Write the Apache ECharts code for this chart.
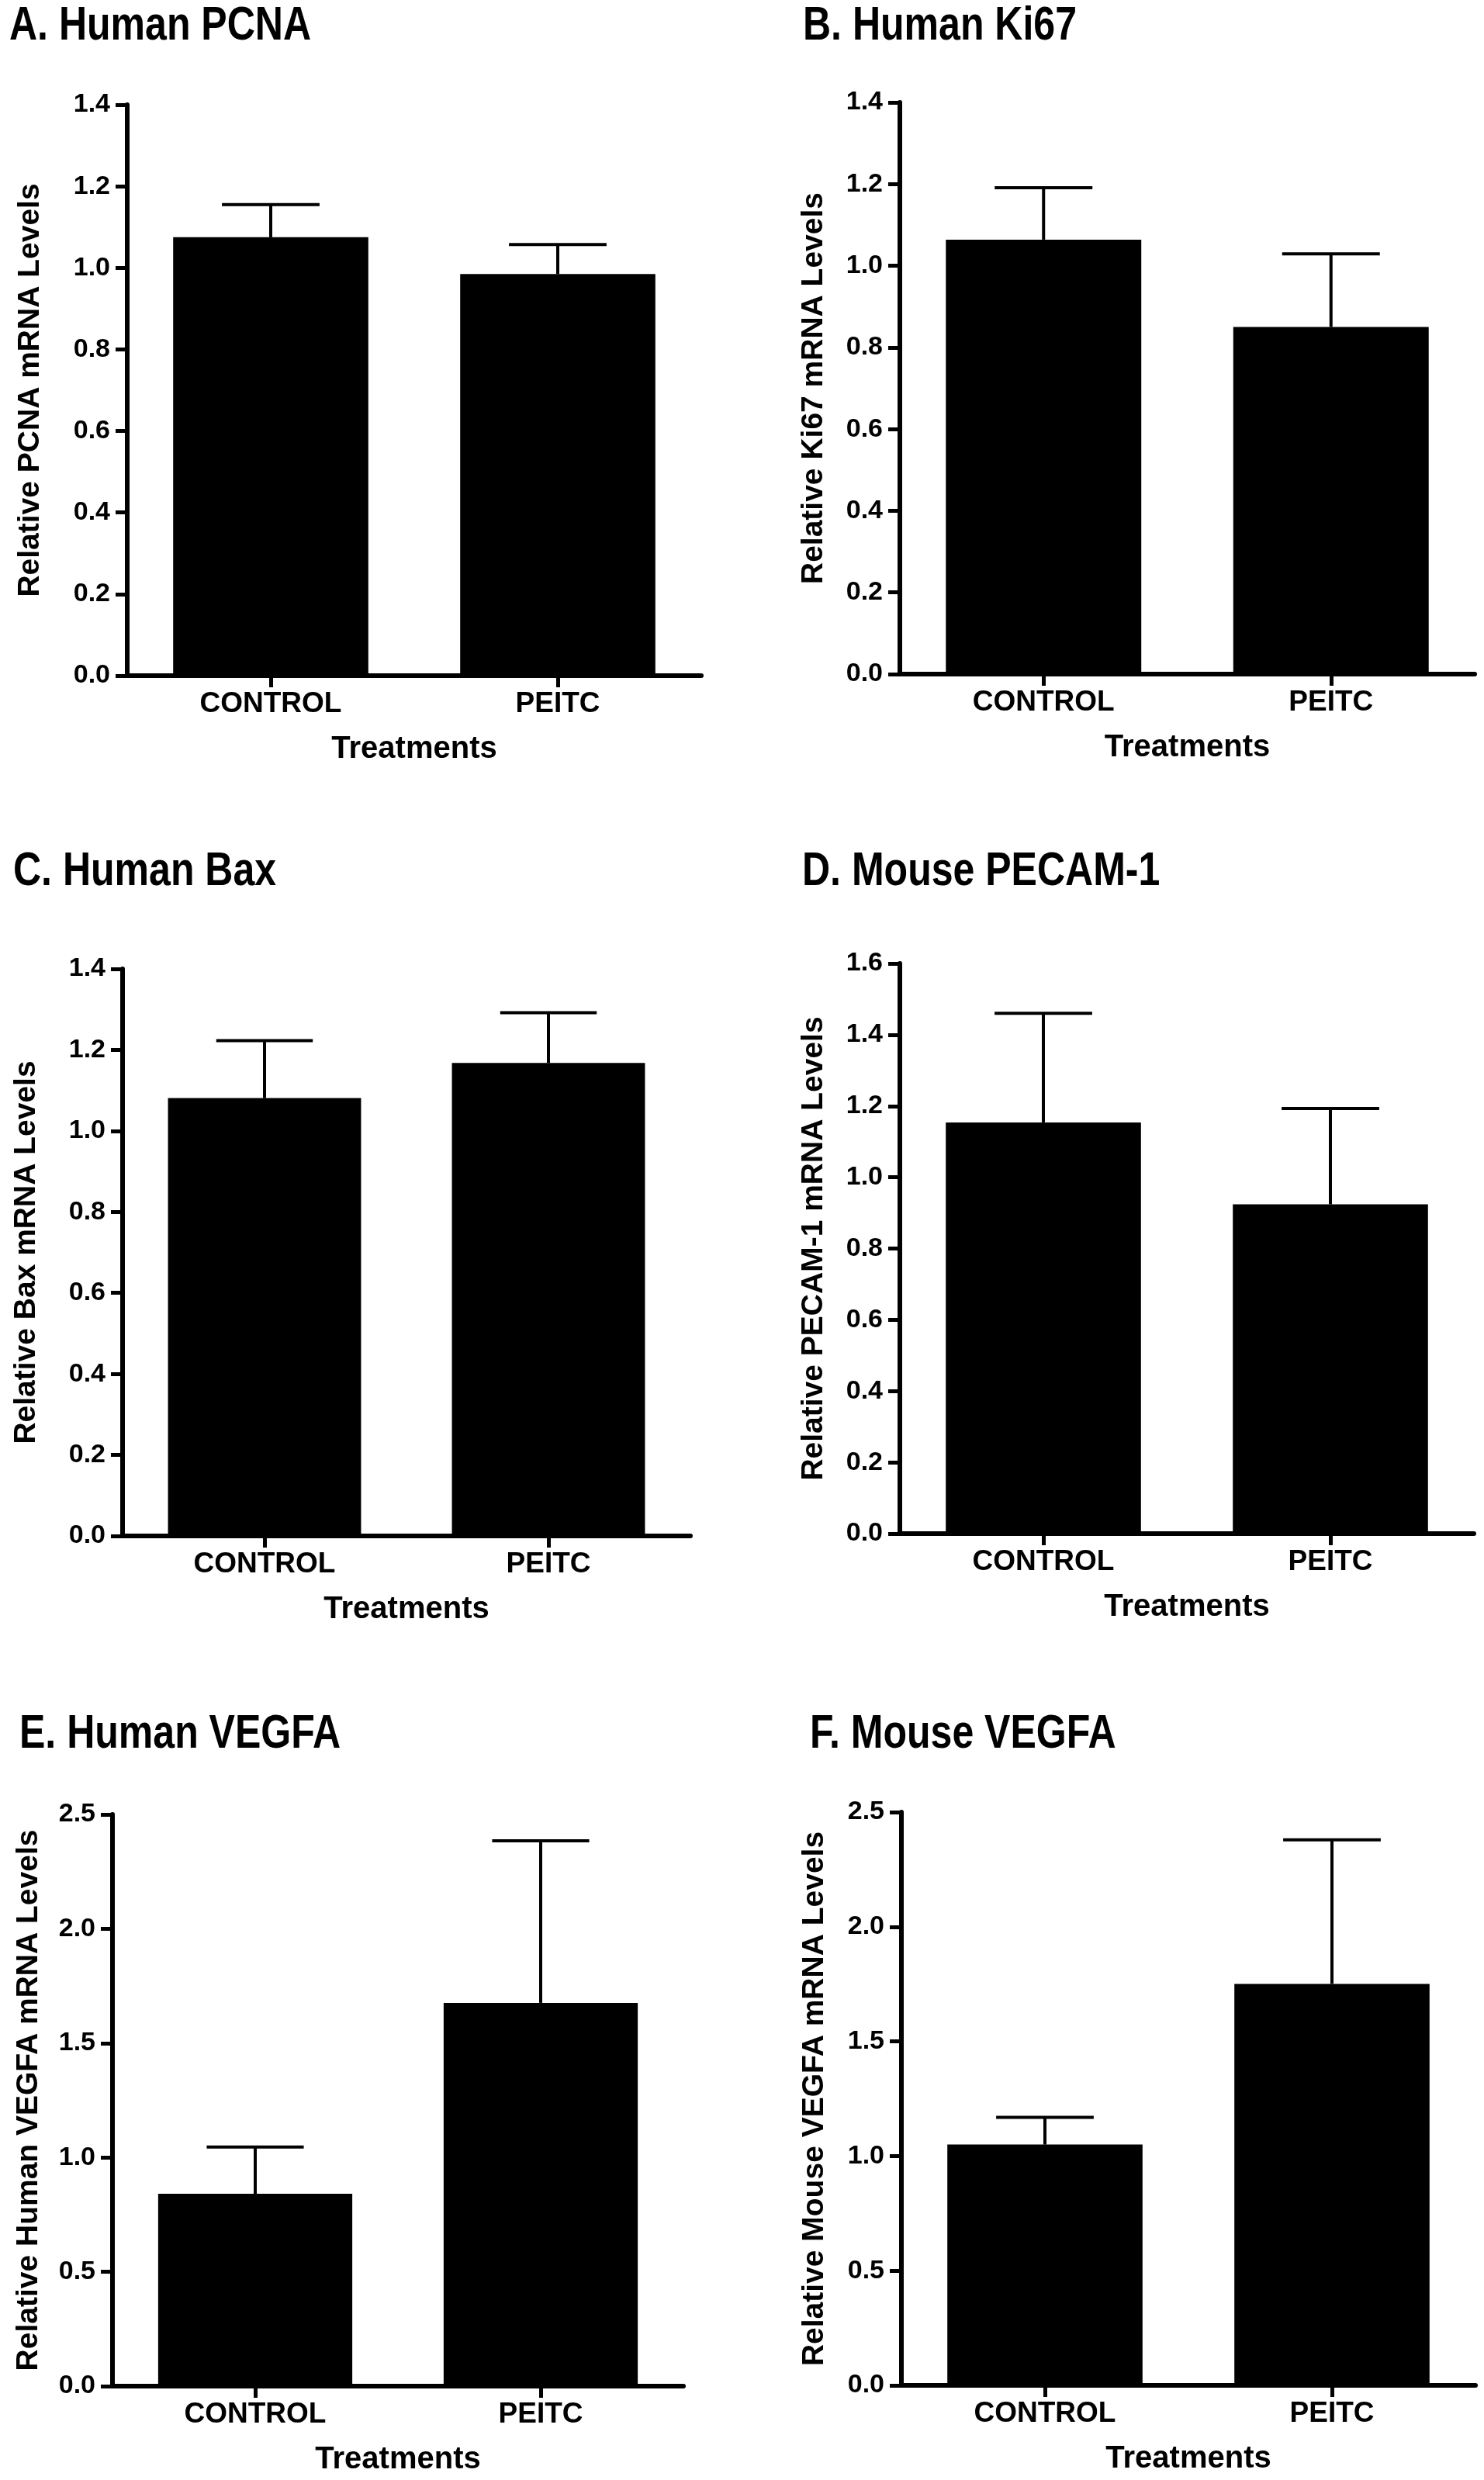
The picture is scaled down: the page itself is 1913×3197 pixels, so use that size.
<!DOCTYPE html>
<html>
<head>
    <meta charset="utf-8">
    <title>ECharts</title>
    <script src="https://cdn.jsdelivr.net/npm/echarts@6/dist/echarts.min.js"></script>
    <style>
        html, body { margin: 0; padding: 0; background: #fff; }
    </style>
</head>
<body>
<div id="main" style="width: 1913px;height:3197px;"></div>
<script type="text/javascript">
    // categories and values (mean, and the SEM shown by the upper error bar)
    var categories = ['CONTROL', 'PEITC'];

    var pcnaMean = [1.075, 0.985];
    var pcnaSem = [0.080, 0.072];
    var ki67Mean = [1.064, 0.850];
    var ki67Sem = [0.127, 0.179];
    var baxMean = [1.081, 1.168];
    var baxSem = [0.142, 0.124];
    var pecamMean = [1.154, 0.924];
    var pecamSem = [0.306, 0.269];
    var hVegfaMean = [0.841, 1.676];
    var hVegfaSem = [0.205, 0.709];
    var mVegfaMean = [1.050, 1.751];
    var mVegfaSem = [0.119, 0.628];

    var yMax = [1.4, 1.4, 1.4, 1.6, 2.5, 2.5];
    var yInterval = [0.2, 0.2, 0.2, 0.2, 0.5, 0.5];

    var titles = ['A. Human PCNA', 'B. Human Ki67', 'C. Human Bax',
        'D. Mouse PECAM-1', 'E. Human VEGFA', 'F. Mouse VEGFA'];
    var yNames = ['Relative PCNA mRNA Levels', 'Relative Ki67 mRNA Levels',
        'Relative Bax mRNA Levels', 'Relative PECAM-1 mRNA Levels',
        'Relative Human VEGFA mRNA Levels', 'Relative Mouse VEGFA mRNA Levels'];
    var xName = 'Treatments';

    var means = [pcnaMean, ki67Mean, baxMean, pecamMean, hVegfaMean, mVegfaMean];
    var sems = [pcnaSem, ki67Sem, baxSem, pecamSem, hVegfaSem, mVegfaSem];

    // panel placement in pixels (tl/tc = title left and title cap centre)
    var panels = [
        {left: 164, top: 135, width: 740, height: 736, tl: 12, tc: 34, gap: 105},
        {left: 1160, top: 132, width: 741, height: 737, tl: 1035, tc: 34, gap: 91},
        {left: 158, top: 1249, width: 732, height: 731, tl: 17, tc: 1124, gap: 104},
        {left: 1160, top: 1242, width: 740, height: 735, tl: 1034, tc: 1124, gap: 91},
        {left: 145, top: 2339, width: 736, height: 737, tl: 25, tc: 2236, gap: 88},
        {left: 1162, top: 2336, width: 740, height: 739, tl: 1044, tc: 2236, gap: 92}
    ];

    var font = '"Liberation Sans", Arial, Helvetica, sans-serif';
    var myChart = echarts.init(document.getElementById('main'));

    var option = {
        backgroundColor: '#fff',
        animation: false,
        textStyle: {fontFamily: font},
        graphic: [], grid: [], xAxis: [], yAxis: [], series: []
    };

    function renderErr(params, api) {
        var i = api.value(0);
        var base = api.coord([i, api.value(1)]);
        var top = api.coord([i, api.value(2)]);
        var half = api.size([1, 0])[0] * 0.17;
        var style = {stroke: '#000', lineWidth: 4};
        return {
            type: 'group',
            children: [
                {type: 'line', shape: {x1: base[0], y1: base[1], x2: top[0], y2: top[1]}, style: style},
                {type: 'line', shape: {x1: top[0] - half, y1: top[1], x2: top[0] + half, y2: top[1]}, style: style}
            ]
        };
    }

    panels.forEach(function (p, k) {
        // panel titles are set in a condensed bold face: squeeze Arial-metric bold horizontally
        option.graphic.push({
            type: 'text', x: p.tl, y: p.tc, scaleX: 0.82,
            style: {
                text: titles[k], fill: '#000',
                font: 'bold 61px ' + font,
                textAlign: 'left', textVerticalAlign: 'middle', verticalAlign: 'middle'
            }
        });
        option.grid.push({left: p.left, top: p.top, width: p.width, height: p.height, containLabel: false});
        option.xAxis.push({
            type: 'category', gridIndex: k, data: categories,
            axisLine: {lineStyle: {color: '#000', width: 6}},
            axisTick: {show: true, alignWithLabel: true, length: 15, lineStyle: {color: '#000', width: 5}},
            axisLabel: {color: '#000', fontFamily: font, fontSize: 37, fontWeight: 'bold', margin: 18},
            name: xName, nameLocation: 'middle', nameGap: 75,
            nameTextStyle: {color: '#000', fontFamily: font, fontSize: 40, fontWeight: 'bold'}
        });
        option.yAxis.push({
            type: 'value', gridIndex: k, min: 0, max: yMax[k], interval: yInterval[k],
            axisLine: {show: true, lineStyle: {color: '#000', width: 6}},
            axisTick: {show: true, length: 15, lineStyle: {color: '#000', width: 5}},
            splitLine: {show: false},
            axisLabel: {
                color: '#000', fontFamily: font, fontSize: 34, fontWeight: 'bold', margin: 22,
                formatter: function (v) { return v.toFixed(1); }
            },
            name: yNames[k], nameLocation: 'middle', nameRotate: 90, nameGap: p.gap,
            nameTextStyle: {color: '#000', fontFamily: font, fontSize: 39, fontWeight: 'bold'}
        });
        option.series.push({
            type: 'bar', xAxisIndex: k, yAxisIndex: k, data: means[k],
            barWidth: '68%', itemStyle: {color: '#000'}
        });
        option.series.push({
            type: 'custom', xAxisIndex: k, yAxisIndex: k, z: 5,
            renderItem: renderErr,
            encode: {x: 0, y: [1, 2]},
            data: means[k].map(function (m, i) { return [i, m, m + sems[k][i]]; })
        });
    });

    myChart.setOption(option);
</script>
</body>
</html>
